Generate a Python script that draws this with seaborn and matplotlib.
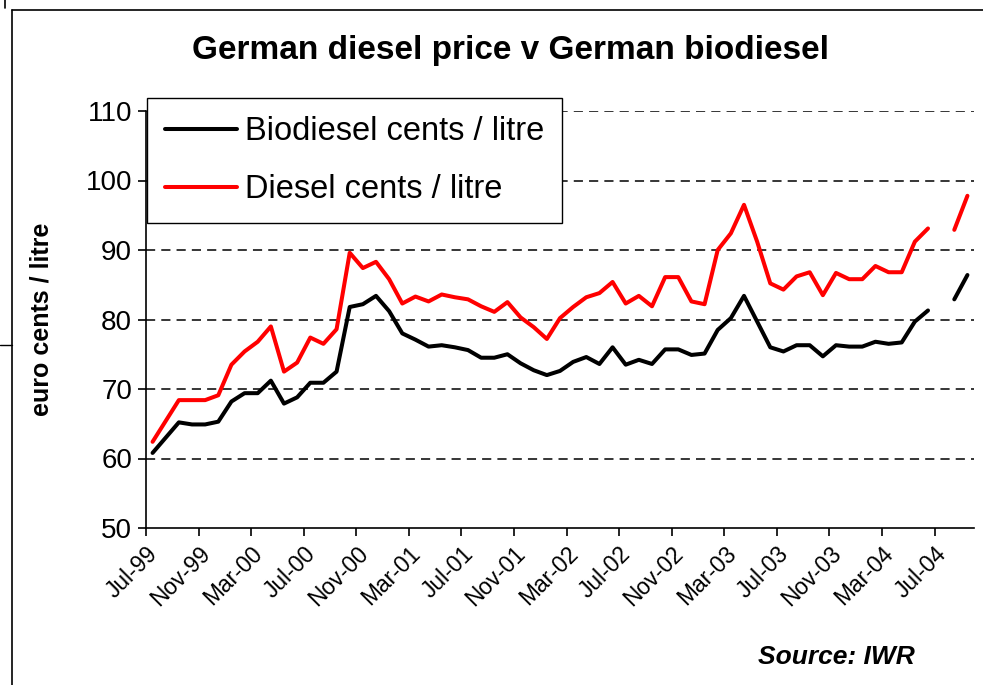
import numpy as np
import pandas as pd
import seaborn as sns
import matplotlib
matplotlib.use('Agg')
import matplotlib.pyplot as plt
import matplotlib.transforms as mtransforms
from matplotlib.lines import Line2D

# monthly prices, Jul-99 .. Sep-04 (Jul-04 missing)
biodiesel = [60.8, 63.0, 65.2, 64.9, 64.9, 65.3, 68.2, 69.4, 69.4, 71.2,
             67.9, 68.8, 70.9, 70.9, 72.5, 81.8, 82.2, 83.4, 81.2, 78.0,
             77.1, 76.1, 76.3, 76.0, 75.6, 74.5, 74.5, 75.0, 73.7, 72.7,
             72.0, 72.6, 73.9, 74.6, 73.6, 76.0, 73.5, 74.2, 73.6, 75.7,
             75.7, 74.9, 75.1, 78.5, 80.2, 83.4, 79.7, 76.0, 75.4, 76.3,
             76.3, 74.7, 76.3, 76.1, 76.1, 76.8, 76.5, 76.7, 79.7, 81.3,
             np.nan, 82.9, 86.4]
diesel = [62.4, 65.4, 68.4, 68.4, 68.4, 69.1, 73.5, 75.4, 76.8, 79.0,
          72.5, 73.8, 77.4, 76.5, 78.6, 89.6, 87.4, 88.3, 85.8, 82.3,
          83.3, 82.6, 83.6, 83.2, 82.9, 81.9, 81.1, 82.5, 80.3, 78.9,
          77.2, 80.2, 81.8, 83.2, 83.8, 85.4, 82.3, 83.4, 81.9, 86.1,
          86.1, 82.6, 82.2, 90.0, 92.4, 96.5, 91.2, 85.2, 84.3, 86.2,
          86.8, 83.5, 86.7, 85.8, 85.8, 87.7, 86.8, 86.8, 91.2, 93.1,
          np.nan, 92.9, 97.8]
tick_labels = ['Jul-99', 'Nov-99', 'Mar-00', 'Jul-00', 'Nov-00', 'Mar-01',
               'Jul-01', 'Nov-01', 'Mar-02', 'Jul-02', 'Nov-02', 'Mar-03',
               'Jul-03', 'Nov-03', 'Mar-04', 'Jul-04']
series_names = ['Biodiesel cents / litre', 'Diesel cents / litre']
series_colors = ['black', '#FF0000']

n = len(diesel)
rows = []
for name, vals in zip(series_names, [biodiesel, diesel]):
    seg = 0
    for i, v in enumerate(vals):
        if np.isnan(v):
            seg += 1  # gap in the data -> new line segment
            continue
        rows.append({'month': i, 'price': v, 'series': name, 'seg': seg})
df = pd.DataFrame(rows)

sns.set_style('white')
plt.rcParams['font.family'] = ['Liberation Sans', 'DejaVu Sans']
plt.rcParams['text.color'] = 'black'
plt.rcParams['axes.labelcolor'] = 'black'
plt.rcParams['xtick.color'] = 'black'
plt.rcParams['ytick.color'] = 'black'

fig = plt.figure(figsize=(9.83, 6.85), dpi=100)
ax = fig.add_axes([146 / 983, 1 - 528 / 685, (974 - 146) / 983, (528 - 111) / 685])

sns.lineplot(data=df, x='month', y='price', hue='series', units='seg',
             estimator=None, palette=dict(zip(series_names, series_colors)),
             hue_order=series_names, linewidth=2.9, ax=ax, legend=False)

ax.set_xlim(-0.5, n - 0.5)
ax.set_ylim(50, 110)
ax.set_yticks(range(50, 111, 10))
ax.set_yticklabels([str(v) for v in range(50, 111, 10)], fontsize=20)
ax.set_xticks(np.arange(len(tick_labels)) * 4 - 0.5)
ax.set_xticklabels(tick_labels, rotation=45, ha='right', rotation_mode='anchor',
                   fontsize=16.5)
shift = mtransforms.ScaledTranslation(8 / 100, -4 / 100, fig.dpi_scale_trans)
for lbl in ax.get_xticklabels():
    lbl.set_transform(lbl.get_transform() + shift)
ax.tick_params(axis='both', direction='out', length=6, width=1.2, color='black',
               left=True, bottom=True, pad=4)
for y in range(60, 111, 10):
    ax.axhline(y, color='black', linestyle=(0, (6, 4)), linewidth=1.1, zorder=0)
for s in ['top', 'right']:
    ax.spines[s].set_visible(False)
for s in ['left', 'bottom']:
    ax.spines[s].set_color('black')
    ax.spines[s].set_linewidth(1.2)
ax.set_xlabel('')
ax.set_ylabel('euro cents / litre', fontsize=18, fontweight='bold', labelpad=23)

handles = [Line2D([], [], color=c, linewidth=2.9) for c in series_colors]
leg = fig.legend(handles, series_names, loc='upper left',
                 bbox_to_anchor=(147 / 983, 1 - 98 / 685), borderaxespad=0,
                 fontsize=23.5, frameon=True, fancybox=False, framealpha=1,
                 edgecolor='black', handlelength=2.2, handletextpad=0.25,
                 borderpad=0.55, labelspacing=0.83)
leg.get_frame().set_linewidth(1.0)

fig.text(510 / 983, 1 - 50 / 685, 'German diesel price v German biodiesel',
         ha='center', va='center', fontsize=24, fontweight='bold')
fig.text(915 / 983, 1 - 657 / 685, 'Source: IWR', ha='right', va='center',
         fontsize=19, fontweight='bold', fontstyle='italic')

# chart border remnants
fig.add_artist(Line2D([12 / 983, 12 / 983], [0, 1 - 10 / 685], color='black', linewidth=1.2))
fig.add_artist(Line2D([12 / 983, 1], [1 - 10 / 685, 1 - 10 / 685], color='black', linewidth=1.2))
fig.add_artist(Line2D([0, 12 / 983], [1 - 345 / 685, 1 - 345 / 685], color='black', linewidth=1.0))
fig.add_artist(Line2D([5 / 983, 5 / 983], [1, 1 - 8 / 685], color='black', linewidth=1.2))

fig.savefig('out.png', dpi=100)
plt.close(fig)
